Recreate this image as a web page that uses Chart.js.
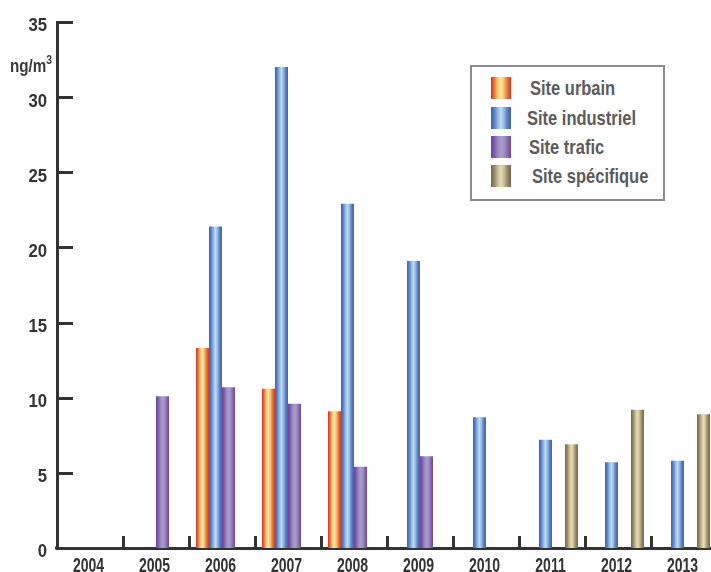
<!DOCTYPE html>
<html lang="fr">
<head>
<meta charset="utf-8">
<title>Concentrations ng/m3 par site</title>
<script src="https://cdn.jsdelivr.net/npm/chart.js@4.4.1/dist/chart.umd.min.js"></script>
<style>
  html, body { margin: 0; padding: 0; background: #fff; overflow: hidden; }
  #wrap { position: relative; width: 720px; height: 572px; }
  #chart { position: absolute; left: 0; top: 0; }
  .narrow { display: inline-block; transform-origin: 0 50%; white-space: nowrap; }
  .unit {
    position: absolute; left: 10px; top: 56px;
    font: bold 19px "Liberation Sans", Arial, sans-serif;
    color: #3a3a3a; line-height: 19px;
  }
  .unit .narrow { transform: scaleX(0.8); }
  .unit sup { font-size: 13px; position: relative; top: -6px; vertical-align: top; }
  .legend {
    position: absolute; left: 470px; top: 65px; width: 191px; height: 132px;
    border: 2px solid #8c8c8c; background: #fff;
  }
  .legend .row { position: absolute; left: 19px; height: 22px; width: 170px; }
  .legend .sw { position: absolute; left: 0; top: 0; width: 20px; height: 22px; }
  .legend .lbl {
    position: absolute; top: 0;
    font: bold 21px "Liberation Sans", Arial, sans-serif;
    color: #5b5b5b; line-height: 22px;
  }
  .legend .lbl .narrow { transform: scaleX(0.785); }
</style>
</head>
<body>
<div id="wrap">
  <canvas id="chart" width="720" height="572"></canvas>
  <div class="unit"><span class="narrow">ng/m<sup>3</sup></span></div>
  <div class="legend" id="legend"></div>
</div>
<script>
// Years on the x axis
const years = ['2004', '2005', '2006', '2007', '2008', '2009', '2010', '2011', '2012', '2013'];

// Series names
const seriesNames = ['Site urbain', 'Site industriel', 'Site trafic', 'Site spécifique'];

// Values in ng/m3 (null = no measurement that year)
const urbain     = [null, null, 13.3, 10.6, 9.1, null, null, null, null, null];
const industriel = [null, null, 21.4, 32.0, 22.9, 19.1, 8.7, 7.2, 5.7, 5.8];
const trafic     = [null, 10.1, 10.7, 9.6, 5.4, 6.1, null, null, null, null];
const specifique = [null, null, null, null, null, null, null, 6.9, 9.2, 8.9];

// Y axis range
const yMin = 0, yMax = 35, yStep = 5;

// Cylinder-like shading: colour stops across each bar, left to right
const shades = [
  ['#d2322a', '#e8743e', '#f6c873', '#fbeaa2', '#f3b866', '#e36a3a', '#cf3a2b'],
  ['#3f5fab', '#5a82c4', '#8fb6e3', '#bcdcf6', '#8fb3e0', '#5779be', '#4363ad'],
  ['#66449a', '#7c5daa', '#9a86bf', '#aa9acb', '#a08fc4', '#8467b0', '#6b4a9c'],
  ['#74684a', '#93876a', '#c9bc94', '#e9dcb4', '#c8ba91', '#928566', '#75694c']
];

const CAT_PCT = 0.788;
const TICK_FONT = '"Liberation Sans", Arial, sans-serif';

function shadeGradient(c, x0, x1, stops) {
  const g = c.createLinearGradient(x0, 0, x1, 0);
  stops.forEach((col, i) => g.addColorStop(i / (stops.length - 1), col));
  return g;
}

function barFill(ctx) {
  const stops = shades[ctx.datasetIndex];
  const chart = ctx.chart;
  const xs = chart.scales && chart.scales.x;
  if (!xs || ctx.type !== 'data' || !(xs.width > 0)) return stops[3];
  const c0 = xs.getPixelForValue(0);
  const c1 = xs.getPixelForValue(1);
  const catW = c1 - c0;
  const groupW = catW * CAT_PCT;
  const barW = groupW / seriesNames.length;
  const center = xs.getPixelForValue(ctx.dataIndex);
  const left = center - groupW / 2 + ctx.datasetIndex * barW;
  if (!Number.isFinite(left) || !Number.isFinite(barW) || barW <= 0) return stops[3];
  return shadeGradient(chart.ctx, left, left + barW, stops);
}

// Inner tick marks and condensed tick labels, placed with the library's scales
const axisDecor = {
  id: 'axisDecor',
  afterDraw(chart) {
    const c = chart.ctx;
    const xs = chart.scales.x, ys = chart.scales.y;
    const area = chart.chartArea;
    c.save();
    c.strokeStyle = '#333';
    c.lineWidth = 3;
    c.lineCap = 'butt';
    ys.ticks.forEach(t => {
      if (t.value === yMin) return;
      const y = Math.round(ys.getPixelForValue(t.value)) + 0.5;
      c.beginPath();
      c.moveTo(area.left, y);
      c.lineTo(area.left + 16, y);
      c.stroke();
    });
    const catW = xs.getPixelForValue(1) - xs.getPixelForValue(0);
    for (let i = 1; i <= years.length; i++) {
      const x = Math.round(xs.getPixelForValue(i) - catW / 2) + 0.5;
      c.beginPath();
      c.moveTo(x, area.bottom);
      c.lineTo(x, area.bottom - 12);
      c.stroke();
    }
    c.beginPath();
    c.moveTo(area.left - 2, area.bottom);
    c.lineTo(area.left + 2, area.bottom);
    c.stroke();

    // y labels
    c.fillStyle = '#333';
    c.font = 'bold 18px ' + TICK_FONT;
    c.textBaseline = 'middle';
    c.textAlign = 'right';
    ys.ticks.forEach(t => {
      const y = ys.getPixelForValue(t.value) + 4.5;
      c.save();
      c.translate(area.left - 10, y);
      c.scale(0.93, 1);
      c.fillText(t.label, 0, 0);
      c.restore();
    });
    // x labels
    c.font = 'bold 19.5px ' + TICK_FONT;
    c.textBaseline = 'alphabetic';
    c.textAlign = 'center';
    xs.ticks.forEach((t, i) => {
      const x = xs.getPixelForValue(i) - 1.5;
      c.save();
      c.translate(x, area.bottom + 24);
      c.scale(0.72, 1);
      c.fillText(xs.getLabelForValue(t.value), 0, 0);
      c.restore();
    });
    c.restore();
  }
};

const seriesData = [urbain, industriel, trafic, specifique];

new Chart(document.getElementById('chart'), {
  type: 'bar',
  data: {
    labels: years,
    datasets: seriesNames.map((name, i) => ({
      label: name,
      data: seriesData[i],
      backgroundColor: barFill,
      borderWidth: 0,
      barPercentage: 1,
      categoryPercentage: CAT_PCT
    }))
  },
  options: {
    responsive: false,
    animation: false,
    layout: { padding: { top: 22, right: 3, left: 0, bottom: 0 } },
    plugins: { legend: { display: false }, tooltip: { enabled: false } },
    scales: {
      x: {
        grid: { display: false, drawTicks: false },
        border: { display: true, color: '#333', width: 3 },
        ticks: { display: false },
        afterFit(scale) { scale.height = 24; }
      },
      y: {
        min: yMin, max: yMax,
        grid: { display: false, drawTicks: false },
        border: { display: true, color: '#333', width: 3 },
        ticks: { display: false, stepSize: yStep },
        afterFit(scale) { scale.width = 57; }
      }
    }
  },
  plugins: [axisDecor]
});

// Legend with the same shading as the bars
const legend = document.getElementById('legend');
const rowTops = [10, 40, 69, 98];
const textLefts = [39, 36, 38, 41];
seriesNames.forEach((name, i) => {
  const row = document.createElement('div');
  row.className = 'row';
  row.style.top = rowTops[i] + 'px';
  const sw = document.createElement('div');
  sw.className = 'sw';
  sw.style.background = 'linear-gradient(to right, ' + shades[i].join(', ') + ')';
  const lbl = document.createElement('div');
  lbl.className = 'lbl';
  lbl.style.left = textLefts[i] + 'px';
  const span = document.createElement('span');
  span.className = 'narrow';
  span.textContent = name;
  lbl.appendChild(span);
  row.appendChild(sw);
  row.appendChild(lbl);
  legend.appendChild(row);
});
</script>
</body>
</html>
